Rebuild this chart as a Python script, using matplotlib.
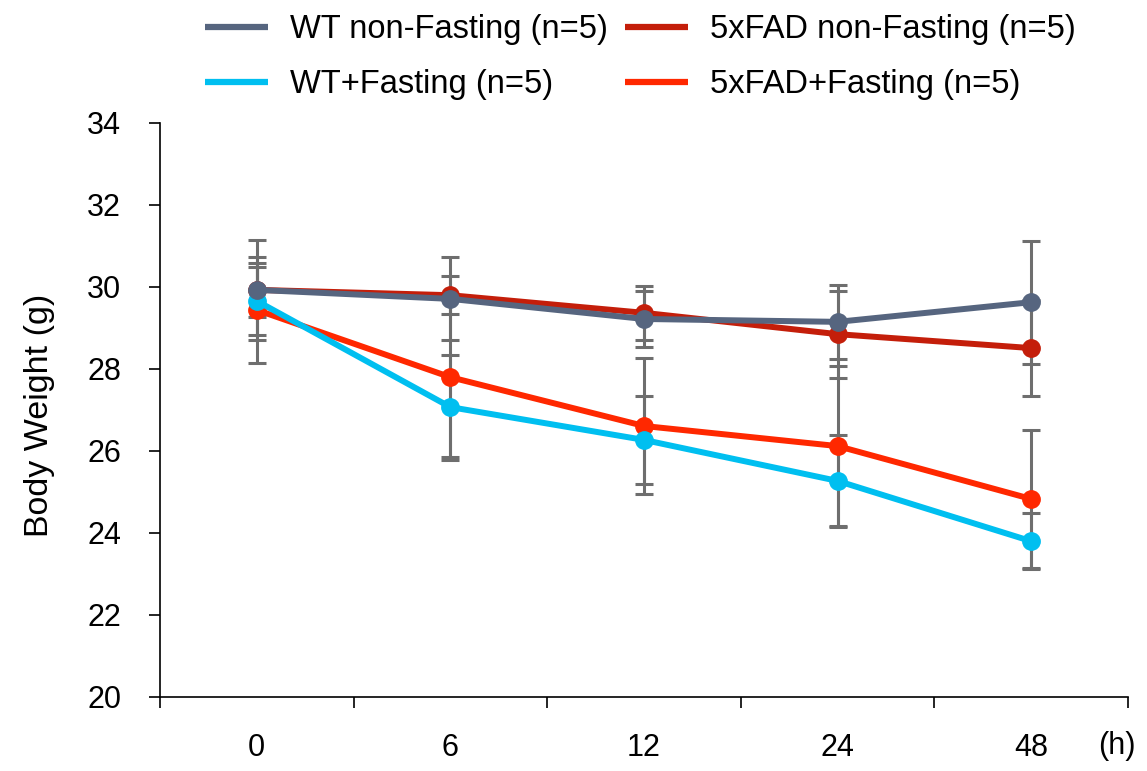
import matplotlib
matplotlib.use("Agg")
import matplotlib.pyplot as plt
from matplotlib.ticker import FixedLocator, NullFormatter

categories = ["0", "6", "12", "24", "48"]
wt_nonfast = [29.93, 29.71, 29.22, 29.15, 29.63]
fad_nonfast = [29.93, 29.80, 29.37, 28.85, 28.51]
wt_fast = [29.66, 27.07, 26.27, 25.27, 23.80]
fad_fast = [29.44, 27.80, 26.61, 26.12, 24.83]
wt_nonfast_err = [1.22, 1.01, 0.68, 0.91, 1.50]
fad_nonfast_err = [0.66, 0.46, 0.66, 1.06, 1.17]
wt_fast_err = [0.83, 1.28, 1.07, 1.12, 0.68]
fad_fast_err = [1.30, 1.95, 1.65, 1.95, 1.68]
labels = ["WT non-Fasting (n=5)", "5xFAD non-Fasting (n=5)",
          "WT+Fasting (n=5)", "5xFAD+Fasting (n=5)"]

plt.rcParams['font.family'] = ['Liberation Sans', 'DejaVu Sans']

W, H = 1147, 771
fig = plt.figure(figsize=(W/100, H/100), dpi=100)
ax = fig.add_axes([160/W, 1-697/H, (1128-160)/W, (697-123)/H])

x = list(range(len(categories)))
series = [
    (wt_nonfast, wt_nonfast_err, "#56657F", labels[0], 6),
    (fad_nonfast, fad_nonfast_err, "#C41E0A", labels[1], 3),
    (wt_fast, wt_fast_err, "#00BFF0", labels[2], 5),
    (fad_fast, fad_fast_err, "#FF2800", labels[3], 4),
]
handles = {}
for ys, err, col, lab, z in series:
    ax.errorbar(x, ys, yerr=err, fmt='none', ecolor='#6E6E6E', elinewidth=2.2,
                capsize=6.5, capthick=2.2, zorder=2)
for ys, err, col, lab, z in series:
    h, = ax.plot(x, ys, color=col, lw=4.3, marker='o', ms=12.5, zorder=z, label=lab,
                 solid_capstyle='butt')
    handles[lab] = h

ax.set_xlim(-0.5, 4.5)
ax.set_ylim(20, 34)
ax.set_yticks(range(20, 35, 2))
ax.set_xticks(x)
ax.set_xticklabels(categories, fontsize=22)
ax.xaxis.set_minor_locator(FixedLocator([i - 0.5 for i in range(6)]))
ax.xaxis.set_minor_formatter(NullFormatter())
ax.tick_params(axis='x', which='major', length=0, pad=26)
ax.tick_params(axis='x', which='minor', length=8, width=1.2, direction='out')
ax.tick_params(axis='y', which='major', length=8, width=1.2, direction='out', labelsize=22, pad=20)
for s in ['top', 'right']:
    ax.spines[s].set_visible(False)
for s in ['left', 'bottom']:
    ax.spines[s].set_linewidth(1.2)

ax.set_ylabel("Body Weight (g)", fontsize=24.5)
ax.yaxis.set_label_coords((55-160)/968, 0.49)
fig.text(1117/W, 1-746/H, "(h)", fontsize=22, ha='center', va='center')

order = [labels[0], labels[2], labels[1], labels[3]]
leg = fig.legend([handles[l] for l in order], order, ncol=2, loc='upper left',
                 bbox_to_anchor=(205/W, 1-14/H), frameon=False, fontsize=23.5,
                 borderpad=0, borderaxespad=0,
                 handlelength=1.93, handletextpad=0.67, columnspacing=0.52,
                 labelspacing=0.75)
for lh in leg.get_lines():
    lh.set_marker('')
    lh.set_linewidth(4.5)
    lh.set_solid_capstyle('butt')

fig.savefig("out.png", dpi=100)
